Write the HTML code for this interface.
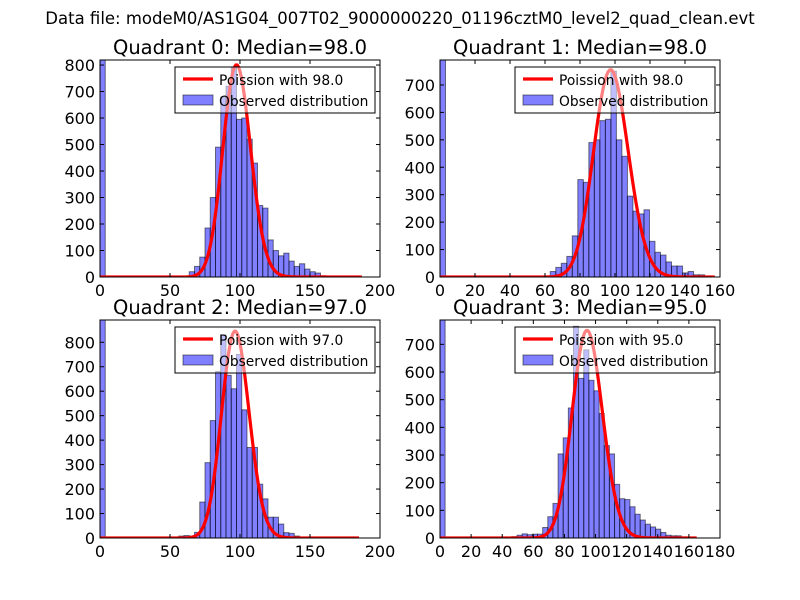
<!DOCTYPE html>
<html><head><meta charset="utf-8"><style>
body{margin:0;background:#fff;}
svg{display:block;font-family:"DejaVu Sans","Liberation Sans",sans-serif;}
</style></head><body>
<svg id="fig" width="800" height="600" viewBox="0 0 800 600">
<rect width="800" height="600" fill="#fff"/>
<text x="400" y="24" text-anchor="middle" font-size="16.5">Data file: modeM0/AS1G04_007T02_9000000220_01196cztM0_level2_quad_clean.evt</text>
</svg>
<script>
// Quadrant 0
const q0Counts = [3,2,2,20,40,75,185,300,490,680,720,790,595,600,520,430,270,260,140,100,80,90,60,40,50,30,20,15,5,3,3,2];
const q0FirstBin = 14;
const q0ZeroBin = 900;
const q0Median = 98.0;
const q0PoissonPeak = 800;
const q0XTicks = [0,50,100,150,200];
const q0YTicks = [0,100,200,300,400,500,600,700,800];
// Quadrant 1
const q1Counts = [20,35,50,75,150,355,345,490,500,570,575,750,500,440,295,240,230,245,130,90,80,55,40,40,15,20,8,8,3];
const q1FirstBin = 20;
const q1ZeroBin = 900;
const q1Median = 98.0;
const q1PoissonPeak = 755;
const q1XTicks = [0,20,40,60,80,100,120,140,160];
const q1YTicks = [0,100,200,300,400,500,600,700];
// Quadrant 2
const q2Counts = [3,0,8,10,8,23,147,308,480,680,830,665,610,750,524,370,370,220,160,85,85,57,22,19,8];
const q2FirstBin = 13;
const q2ZeroBin = 1000;
const q2Median = 97.0;
const q2PoissonPeak = 845;
const q2XTicks = [0,50,100,150,200];
const q2YTicks = [0,100,200,300,400,500,600,700,800];
// Quadrant 3
const q3Counts = [3,5,10,15,12,14,14,38,77,125,304,362,470,765,577,680,570,532,450,334,304,194,142,139,113,86,65,50,40,32,20,10,8,8,4];
const q3FirstBin = 13;
const q3ZeroBin = 900;
const q3Median = 95.0;
const q3PoissonPeak = 750;
const q3XTicks = [0,20,40,60,80,100,120,140,160,180];
const q3YTicks = [0,100,200,300,400,500,600,700];

const NS='http://www.w3.org/2000/svg';
const fig=document.getElementById('fig');
function mk(tag,attrs,parent){const e=document.createElementNS(NS,tag);for(const k in attrs)e.setAttribute(k,attrs[k]);(parent||fig).appendChild(e);return e;}
function lgamma(z){
  let s=0; while(z<8){s-=Math.log(z);z+=1;}
  return s+(z-0.5)*Math.log(z)-z+0.5*Math.log(2*Math.PI)+1/(12*z)-1/(360*z*z*z);
}
function logpmf(k,l){return k*Math.log(l)-l-lgamma(k+1);}

const panels=[
 {id:0,L:100,R:380,T:60,B:277,xmax:200,ymax:819,bw:3.75,counts:q0Counts,first:q0FirstBin,zero:q0ZeroBin,med:q0Median,peak:q0PoissonPeak,xt:q0XTicks,yt:q0YTicks,cEnd:187},
 {id:1,L:440,R:720,T:60,B:277,xmax:160,ymax:791,bw:3.15,counts:q1Counts,first:q1FirstBin,zero:q1ZeroBin,med:q1Median,peak:q1PoissonPeak,xt:q1XTicks,yt:q1YTicks,cEnd:157},
 {id:2,L:100,R:380,T:320,B:538,xmax:200,ymax:891,bw:3.75,counts:q2Counts,first:q2FirstBin,zero:q2ZeroBin,med:q2Median,peak:q2PoissonPeak,xt:q2XTicks,yt:q2YTicks,cEnd:185},
 {id:3,L:440,R:720,T:320,B:538,xmax:180,ymax:788,bw:3.3,counts:q3Counts,first:q3FirstBin,zero:q3ZeroBin,med:q3Median,peak:q3PoissonPeak,xt:q3XTicks,yt:q3YTicks,cEnd:165}
];
panels.forEach(p=>{
  const g=mk('g',{});
  
  
  const xs=v=>p.L+(v/p.xmax)*(p.R-p.L);
  const ys=v=>p.B-(v/p.ymax)*(p.B-p.T);
  const cp=mk('clipPath',{id:'clip'+p.id},g);
  mk('rect',{x:p.L,y:p.T,width:p.R-p.L,height:p.B-p.T},cp);
  const plot=mk('g',{'clip-path':'url(#clip'+p.id+')'},g);
  const allBins=[{i:0,v:p.zero}].concat(p.counts.map((v,j)=>({i:p.first+j,v:v})));
  allBins.forEach(b=>{
    if(b.v<=0)return;
    const x0=xs(b.i*p.bw),x1=xs((b.i+1)*p.bw),y=ys(b.v);
    const r=mk('rect',{x:x0,y:y,width:x1-x0,height:p.B-y,fill:'rgba(0,0,255,0.5)',stroke:'rgba(0,0,0,0.5)','stroke-width':1},plot);
    
    
  });
  const ref=logpmf(Math.round(p.med),p.med);
  let d='';
  for(let k=0;k<=p.cEnd;k++){const v=p.peak*Math.exp(logpmf(k,p.med)-ref);d+=(k?'L':'M')+xs(k).toFixed(2)+','+ys(v).toFixed(2);}
  const line=mk('path',{d:d,fill:'none',stroke:'#ff0000','stroke-width':3.2,'stroke-linejoin':'round'},plot);
  
  
  const fr=mk('rect',{x:p.L,y:p.T,width:p.R-p.L,height:p.B-p.T,fill:'none',stroke:'#000','stroke-width':1},g);
  
  
  p.xt.forEach(t=>{
    const x=xs(t);
    mk('line',{x1:x,y1:p.B,x2:x,y2:p.B-4,stroke:'#000'},g);
    mk('line',{x1:x,y1:p.T,x2:x,y2:p.T+4,stroke:'#000'},g);
    const tx=mk('text',{x:x,y:p.B+19,'text-anchor':'middle','font-size':16},g);
    tx.textContent=t;
    
    
  });
  p.yt.forEach(t=>{
    const y=ys(t);
    mk('line',{x1:p.L,y1:y,x2:p.L+4,y2:y,stroke:'#000'},g);
    mk('line',{x1:p.R,y1:y,x2:p.R-4,y2:y,stroke:'#000'},g);
    const tx=mk('text',{x:p.L-5,y:y+6,'text-anchor':'end','font-size':16},g);
    tx.textContent=t;
    
    
  });
  const title=mk('text',{x:(p.L+p.R)/2,y:p.T-6,'text-anchor':'middle','font-size':19.5},g);
  title.textContent='Quadrant '+p.id+': Median='+p.med.toFixed(1);
  
  
  const lg=mk('g',{},g);
  
  
  const lx=p.L+75, ly=p.T+7;
  mk('rect',{x:lx,y:ly,width:200,height:46,fill:'rgba(255,255,255,0.5)',stroke:'#000','stroke-width':1},lg);
  mk('line',{x1:lx+8,y1:ly+12,x2:lx+38,y2:ly+12,stroke:'#ff0000','stroke-width':3.2},lg);
  const t1=mk('text',{x:lx+44,y:ly+18,'font-size':13.8},lg);
  t1.textContent='Poission with '+p.med.toFixed(1);
  
  
  mk('rect',{x:lx+8,y:ly+28,width:30,height:10,fill:'rgba(0,0,255,0.5)',stroke:'rgba(0,0,0,0.5)'},lg);
  const t2=mk('text',{x:lx+44,y:ly+39,'font-size':13.8},lg);
  t2.textContent='Observed distribution';
  
  
});
</script>
</body></html>
